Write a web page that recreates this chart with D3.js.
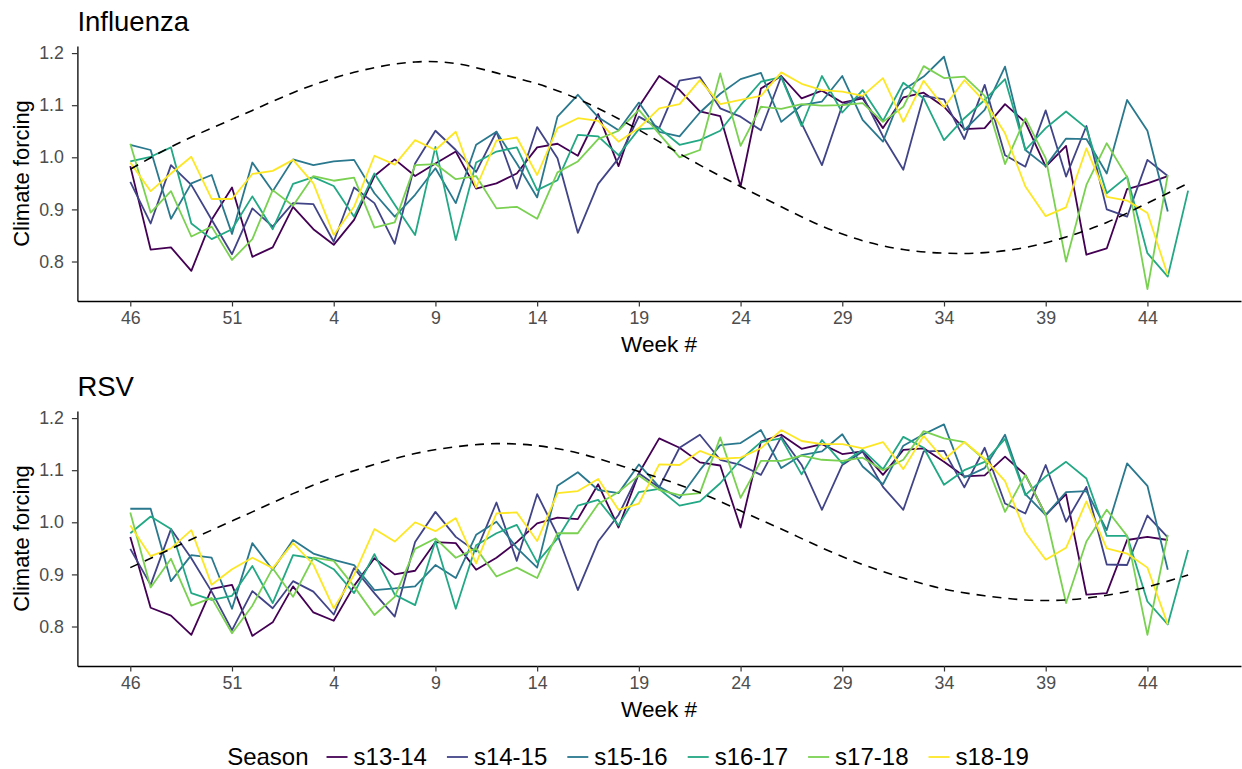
<!DOCTYPE html>
<html>
<head>
<meta charset="utf-8">
<script src="https://cdn.jsdelivr.net/npm/d3@7"></script>
<style>
  body { margin: 0; background: #fff; }
  text { font-family: "Liberation Sans", Arial, sans-serif; }
</style>
</head>
<body>
<script>
// week labels along the x axis (index = position)
const weeks = [46, 47, 48, 49, 50, 51, 52, 1, 2, 3, 4, 5, 6, 7, 8, 9, 10, 11, 12, 13, 14, 15, 16, 17, 18, 19,
  20, 21, 22, 23, 24, 25, 26, 27, 28, 29, 30, 31, 32, 33, 34, 35, 36, 37, 38, 39, 40, 41, 42, 43, 44, 45, 46];
const tickIdx = [0, 5, 10, 15, 20, 25, 30, 35, 40, 45, 50];
const yTicks  = [0.8, 0.9, 1.0, 1.1, 1.2];

const seasons = ["s13-14", "s14-15", "s15-16", "s16-17", "s17-18", "s18-19"];
const colors  = ["#440154", "#414487", "#2A788E", "#22A884", "#7AD151", "#FDE725"];

// Influenza climate forcing by season
const flu1314 = [0.983, 0.823, 0.827, 0.782, 0.88, 0.942, 0.809, 0.827, 0.905, 0.862, 0.832, 0.88, 0.964, 0.996, 0.964, 0.988, 1.011, 0.94, 0.95, 0.969, 1.019, 1.026, 1.003, 1.083, 0.983, 1.097, 1.156, 1.129, 1.088, 1.079, 0.944, 1.132, 1.156, 1.113, 1.128, 1.105, 1.113, 1.056, 1.115, 1.124, 1.097, 1.054, 1.056, 1.102, 1.067, 0.982, 1.022, 0.813, 0.825, 0.939, 0.95, 0.964];
const flu1415 = [0.953, 0.873, 0.985, 0.947, 0.88, 0.814, 0.902, 0.867, 0.912, 0.91, 0.838, 0.942, 0.912, 0.834, 0.988, 1.051, 1.014, 0.972, 1.049, 0.94, 1.058, 0.998, 0.855, 0.949, 0.998, 1.078, 1.056, 1.147, 1.154, 1.094, 1.078, 1.052, 1.155, 1.065, 0.985, 1.1, 1.118, 1.04, 0.976, 1.118, 1.111, 1.035, 1.139, 1.004, 0.982, 1.09, 0.963, 1.06, 0.9, 0.886, 0.995, 0.964];
const flu1516 = [1.024, 1.014, 0.882, 0.95, 0.966, 0.853, 0.99, 0.935, 0.996, 0.985, 0.992, 0.995, 0.931, 0.886, 0.928, 0.979, 0.912, 1.024, 1.049, 0.988, 0.923, 1.078, 1.12, 1.077, 1.052, 1.105, 1.049, 1.04, 1.086, 1.122, 1.15, 1.162, 1.068, 1.1, 1.107, 1.156, 1.072, 1.03, 1.129, 1.155, 1.193, 1.052, 1.091, 1.174, 1.014, 0.983, 1.036, 1.035, 0.969, 1.11, 1.051, 0.896];
const flu1617 = [0.992, 1.001, 1.019, 0.873, 0.843, 0.862, 0.925, 0.862, 0.949, 0.962, 0.945, 0.886, 0.969, 0.909, 0.851, 1.02, 0.841, 0.99, 1.011, 1.019, 0.937, 0.956, 1.043, 1.04, 1.004, 1.054, 1.056, 1.024, 1.033, 1.051, 1.1, 1.145, 1.154, 1.06, 1.156, 1.086, 1.129, 1.07, 1.143, 1.113, 1.033, 1.075, 1.11, 1.15, 1.014, 1.056, 1.088, 1.056, 0.931, 0.963, 0.816, 0.771, 0.936];
const flu1718 = [1.026, 0.894, 0.935, 0.848, 0.867, 0.803, 0.843, 0.937, 0.907, 0.964, 0.955, 0.961, 0.865, 0.875, 0.985, 0.987, 0.958, 0.964, 0.902, 0.905, 0.882, 0.971, 0.992, 1.035, 1.051, 1.091, 1.045, 1.0, 1.014, 1.161, 1.022, 1.097, 1.093, 1.102, 1.099, 1.1, 1.104, 1.068, 1.097, 1.175, 1.152, 1.155, 1.118, 0.987, 1.075, 0.998, 0.8, 0.947, 1.027, 0.962, 0.747, 0.966];
const flu1819 = [0.99, 0.935, 0.969, 1.001, 0.92, 0.92, 0.968, 0.974, 0.995, 0.95, 0.851, 0.905, 1.003, 0.986, 1.033, 1.014, 1.049, 0.942, 1.032, 1.038, 0.966, 1.056, 1.075, 1.07, 1.03, 1.056, 1.094, 1.102, 1.148, 1.102, 1.11, 1.118, 1.163, 1.141, 1.129, 1.126, 1.118, 1.152, 1.068, 1.147, 1.096, 1.148, 1.107, 1.046, 0.944, 0.887, 0.904, 1.017, 0.924, 0.917, 0.893, 0.774];

// RSV climate forcing by season
const rsv1314 = [0.972, 0.836, 0.821, 0.784, 0.872, 0.88, 0.782, 0.808, 0.877, 0.827, 0.811, 0.878, 0.931, 0.9, 0.907, 0.962, 0.96, 0.909, 0.932, 0.962, 0.998, 1.009, 1.006, 1.073, 0.99, 1.094, 1.161, 1.143, 1.115, 1.109, 0.99, 1.155, 1.168, 1.141, 1.15, 1.131, 1.136, 1.091, 1.139, 1.142, 1.116, 1.088, 1.09, 1.126, 1.091, 1.014, 1.054, 0.861, 0.864, 0.966, 0.972, 0.966];
const rsv1415 = [0.949, 0.88, 0.987, 0.931, 0.867, 0.793, 0.868, 0.835, 0.887, 0.867, 0.823, 0.912, 0.864, 0.819, 0.962, 1.02, 0.972, 0.944, 1.038, 0.926, 1.054, 0.976, 0.87, 0.963, 1.014, 1.094, 1.067, 1.143, 1.168, 1.12, 1.11, 1.091, 1.164, 1.11, 1.024, 1.11, 1.136, 1.068, 1.024, 1.136, 1.137, 1.067, 1.143, 1.036, 1.017, 1.11, 1.001, 1.068, 0.919, 0.918, 1.013, 0.971];
const rsv1516 = [1.026, 1.026, 0.887, 0.937, 0.932, 0.834, 0.96, 0.909, 0.966, 0.94, 0.928, 0.918, 0.87, 0.873, 0.877, 0.918, 0.893, 0.976, 1.001, 0.951, 0.913, 1.07, 1.096, 1.062, 1.056, 1.111, 1.068, 1.046, 1.1, 1.148, 1.152, 1.177, 1.104, 1.129, 1.136, 1.169, 1.107, 1.073, 1.147, 1.169, 1.188, 1.086, 1.104, 1.168, 1.054, 1.014, 1.058, 1.06, 0.985, 1.113, 1.07, 0.909];
const rsv1617 = [0.979, 1.011, 0.987, 0.864, 0.851, 0.859, 0.916, 0.845, 0.937, 0.931, 0.91, 0.864, 0.939, 0.861, 0.841, 0.964, 0.834, 0.956, 0.979, 0.995, 0.923, 0.969, 1.032, 1.043, 0.994, 1.058, 1.064, 1.032, 1.04, 1.075, 1.12, 1.154, 1.161, 1.092, 1.158, 1.113, 1.139, 1.102, 1.164, 1.143, 1.072, 1.1, 1.116, 1.16, 1.052, 1.088, 1.116, 1.084, 0.974, 0.974, 0.848, 0.804, 0.947];
const rsv1718 = [1.019, 0.875, 0.93, 0.84, 0.855, 0.787, 0.84, 0.912, 0.857, 0.932, 0.926, 0.877, 0.822, 0.857, 0.949, 0.969, 0.932, 0.95, 0.896, 0.913, 0.893, 0.979, 0.979, 1.035, 1.058, 1.09, 1.062, 1.052, 1.056, 1.163, 1.047, 1.118, 1.118, 1.128, 1.12, 1.118, 1.124, 1.1, 1.12, 1.175, 1.161, 1.154, 1.12, 1.02, 1.091, 1.014, 0.845, 0.963, 1.024, 0.974, 0.784, 0.976];
const rsv1819 = [0.994, 0.935, 0.95, 0.985, 0.88, 0.91, 0.932, 0.912, 0.96, 0.919, 0.835, 0.899, 0.987, 0.963, 1.0, 0.983, 1.008, 0.921, 1.017, 1.019, 0.964, 1.056, 1.06, 1.083, 1.024, 1.036, 1.111, 1.11, 1.137, 1.122, 1.124, 1.142, 1.177, 1.156, 1.15, 1.15, 1.142, 1.154, 1.102, 1.166, 1.12, 1.154, 1.122, 1.079, 0.981, 0.928, 0.951, 1.04, 0.95, 0.94, 0.913, 0.804];

// mean climate curve (dashed), read every second week
const climateIdx = [0, 2, 4, 6, 8, 10, 12, 14, 16, 18, 20, 22, 24, 26, 28, 30, 32, 34, 36, 38, 40, 42, 44, 46, 48, 50, 52];
const fluClimate = [0.977, 1.02, 1.056, 1.09, 1.124, 1.152, 1.172, 1.183, 1.18, 1.162, 1.141, 1.112, 1.074, 1.03, 0.985, 0.944, 0.905, 0.868, 0.84, 0.823, 0.816, 0.817, 0.827, 0.847, 0.875, 0.912, 0.95];
const rsvClimate = [0.913, 0.949, 0.985, 1.02, 1.055, 1.086, 1.111, 1.132, 1.145, 1.151, 1.147, 1.133, 1.11, 1.085, 1.057, 1.022, 0.987, 0.951, 0.919, 0.893, 0.872, 0.859, 0.851, 0.851, 0.86, 0.876, 0.899];

const W = 1242, H = 769;
const svg = d3.select("body").append("svg").attr("width", W).attr("height", H);

const x = d3.scaleLinear().domain([-2.6, 54.6]).range([77.4, 1241]);

const drawPanel = (title, series, climate, dy) => {
  const g = svg.append("g").attr("transform", `translate(0,${dy})`);
  const y = d3.scaleLinear().domain([0.7242, 1.2136]).range([301, 46]);

  g.append("text").attr("x", 77.4).attr("y", 31)
    .attr("font-size", 27.5).attr("fill", "#000").text(title);

  const line = d3.line().x((d, i) => x(i)).y(d => y(d));
  series.forEach((s, k) => {
    g.append("path").datum(s)
      .attr("d", line)
      .attr("fill", "none")
      .attr("stroke", colors[k])
      .attr("stroke-width", 1.8)
      .attr("stroke-linejoin", "round");
  });

  const climLine = d3.line().x(d => x(d[0])).y(d => y(d[1])).curve(d3.curveNatural);
  g.append("path").datum(d3.zip(climateIdx, climate))
    .attr("d", climLine)
    .attr("fill", "none")
    .attr("stroke", "#000")
    .attr("stroke-width", 1.6)
    .attr("stroke-dasharray", "9,7");

  const yAxis = g.append("g").attr("transform", "translate(77.4,0)")
    .call(d3.axisLeft(y).tickValues(yTicks).tickFormat(d3.format(".1f"))
      .tickSize(5.5).tickSizeOuter(0).tickPadding(8));
  const xAxis = g.append("g").attr("transform", "translate(0,301)")
    .call(d3.axisBottom(x).tickValues(tickIdx).tickFormat(i => weeks[i])
      .tickSize(5.5).tickSizeOuter(0).tickPadding(5));

  [yAxis, xAxis].forEach(a => {
    a.select(".domain").attr("stroke", "#000").attr("stroke-width", 1.3);
    a.selectAll(".tick line").attr("stroke", "#333").attr("stroke-width", 1.2);
    a.selectAll(".tick text").attr("fill", "#4D4D4D").attr("font-size", 17.8)
      .style("font-family", '"Liberation Sans", Arial, sans-serif');
  });

  g.append("text").attr("x", 659).attr("y", 352)
    .attr("text-anchor", "middle").attr("font-size", 22.5).text("Week #");
  g.append("text").attr("transform", "translate(29,173.5) rotate(-90)")
    .attr("text-anchor", "middle").attr("font-size", 22).text("Climate forcing");
};

drawPanel("Influenza", [flu1314, flu1415, flu1516, flu1617, flu1718, flu1819], fluClimate, 0);
drawPanel("RSV", [rsv1314, rsv1415, rsv1516, rsv1617, rsv1718, rsv1819], rsvClimate, 365);

// legend, laid out left to right and centred
const legend = svg.append("g");
const lgTitle = legend.append("text").attr("y", 765).attr("font-size", 24).text("Season");
let cx = lgTitle.node().getComputedTextLength() + 18;
seasons.forEach((s, k) => {
  legend.append("line")
    .attr("x1", cx).attr("x2", cx + 21).attr("y1", 757).attr("y2", 757)
    .attr("stroke", colors[k]).attr("stroke-width", 1.8);
  cx += 27;
  const t = legend.append("text").attr("x", cx).attr("y", 765).attr("font-size", 24).text(s);
  cx += t.node().getComputedTextLength() + 20;
});
const total = cx - 20;
legend.attr("transform", `translate(${628 - total / 2},0)`);
</script>
</body>
</html>
